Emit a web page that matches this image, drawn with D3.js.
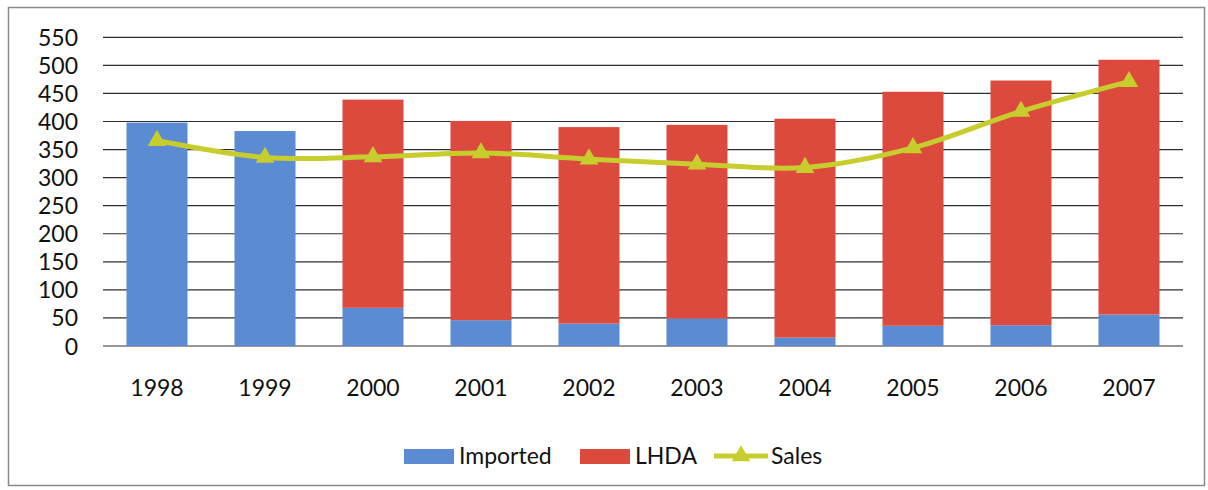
<!DOCTYPE html>
<html>
<head>
<meta charset="utf-8">
<script src="https://cdn.jsdelivr.net/npm/d3@7"></script>
<style>
  html, body { margin: 0; padding: 0; background: #fff; }
  svg { display: block; }
  text { font-family: Lato, "Open Sans", sans-serif; fill: #111; }
</style>
</head>
<body>
<svg id="chart" width="1208" height="490"></svg>
<script>
// Annual volumes by source, with total sales line
const years    = ["1998","1999","2000","2001","2002","2003","2004","2005","2006","2007"];
const imported = [398, 383, 68, 46, 40, 49, 15, 36, 37, 56];
const lhda     = [0, 0, 371, 355, 350, 345, 390, 417, 436, 454];
const sales    = [366, 336, 337, 344, 333, 324, 318, 353, 418, 471];
const yTicks   = [0, 50, 100, 150, 200, 250, 300, 350, 400, 450, 500, 550];

const colors = { imported: "#5b8bd2", lhda: "#dc4a3d", sales: "#c6cd2c" };
const FONT = 23;

const svg = d3.select("#chart");
const plot = { left: 103, right: 1183, top: 37.3, bottom: 346 };

// chart frame
svg.append("rect")
  .attr("x", 8.5).attr("y", 7.5).attr("width", 1196).attr("height", 478)
  .attr("fill", "#fff").attr("stroke", "#8a8a8a").attr("stroke-width", 1.5);

const x = d3.scaleBand().domain(years).range([plot.left, plot.right]).paddingInner(0.435).paddingOuter(0.2175);
const y = d3.scaleLinear().domain([0, 550]).range([plot.bottom, plot.top]);

// horizontal gridlines
svg.append("g").selectAll("line").data(yTicks).join("line")
  .attr("x1", plot.left).attr("x2", plot.right)
  .attr("y1", d => y(d)).attr("y2", d => y(d))
  .attr("stroke", "#2e2e2e").attr("stroke-width", 1.2);

// y axis labels
const yAxis = d3.axisLeft(y).tickValues(yTicks).tickSize(0).tickPadding(0);
const gy = svg.append("g").attr("transform", `translate(${plot.left - 25},0)`).call(yAxis);
gy.select(".domain").remove();
gy.selectAll("text").attr("font-size", FONT).attr("font-family", "Lato, sans-serif").attr("fill", "#111").attr("dy", "0.35em");

// x axis labels
const xAxis = d3.axisBottom(x).tickSize(0).tickPadding(0);
const gx = svg.append("g").attr("transform", `translate(0,${plot.bottom + 42})`).call(xAxis);
gx.select(".domain").remove();
gx.selectAll("text").attr("font-size", FONT).attr("font-family", "Lato, sans-serif").attr("fill", "#111").attr("dy", "0.35em");

// stacked bars
const rows = years.map((yr, i) => ({ year: yr, imported: imported[i], lhda: lhda[i] }));
const stack = d3.stack().keys(["imported", "lhda"])(rows);
svg.append("g").selectAll("g").data(stack).join("g")
  .attr("fill", d => colors[d.key])
  .selectAll("rect").data(d => d).join("rect")
  .attr("x", d => x(d.data.year))
  .attr("width", x.bandwidth())
  .attr("y", d => y(d[1]))
  .attr("height", d => y(d[0]) - y(d[1]));

// sales line
const cx = yr => x(yr) + x.bandwidth() / 2;
const line = d3.line().x((d, i) => cx(years[i])).y(d => y(d)).curve(d3.curveCatmullRom.alpha(0.5));
svg.append("path").datum(sales)
  .attr("d", line).attr("fill", "none")
  .attr("stroke", colors.sales).attr("stroke-width", 5).attr("stroke-linejoin", "round");

const tri = d3.symbol().type(d3.symbolTriangle).size(150);
svg.append("g").selectAll("path").data(sales).join("path")
  .attr("d", tri)
  .attr("transform", (d, i) => `translate(${cx(years[i])},${y(d)})`)
  .attr("fill", colors.sales);

// legend
const lg = svg.append("g").attr("transform", "translate(0,456)");
lg.append("rect").attr("x", 404).attr("y", -7).attr("width", 50).attr("height", 15).attr("fill", colors.imported);
lg.append("text").attr("x", 459).attr("y", 0).attr("dy", "0.35em").attr("font-size", FONT).text("Imported");
lg.append("rect").attr("x", 580).attr("y", -7).attr("width", 50).attr("height", 15).attr("fill", colors.lhda);
lg.append("text").attr("x", 635).attr("y", 0).attr("dy", "0.35em").attr("font-size", FONT).text("LHDA");
lg.append("line").attr("x1", 714).attr("x2", 768).attr("y1", 0).attr("y2", 0)
  .attr("stroke", colors.sales).attr("stroke-width", 5);
lg.append("path").attr("d", tri).attr("transform", "translate(741,0)").attr("fill", colors.sales);
lg.append("text").attr("x", 771).attr("y", 0).attr("dy", "0.35em").attr("font-size", FONT).text("Sales");
</script>
</body>
</html>
